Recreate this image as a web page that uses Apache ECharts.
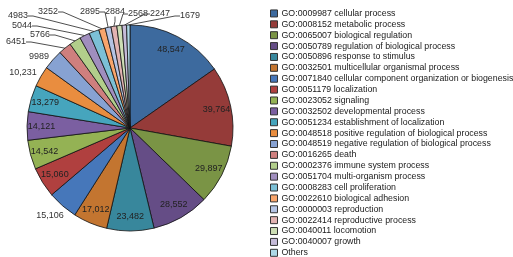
<!DOCTYPE html>
<html><head><meta charset="utf-8">
<script src="https://cdn.jsdelivr.net/npm/echarts@6/dist/echarts.min.js"></script>
<style>html,body{margin:0;padding:0;background:#fff}#c{width:513px;height:257px}</style>
</head><body><div id="c"></div>
<script>
const categories = [
 'GO:0009987 cellular process','GO:0008152 metabolic process','GO:0065007 biological regulation',
 'GO:0050789 regulation of biological process','GO:0050896 response to stimulus',
 'GO:0032501 multicellular organismal process','GO:0071840 cellular component organization or biogenesis',
 'GO:0051179 localization','GO:0023052 signaling','GO:0032502 developmental process',
 'GO:0051234 establishment of localization','GO:0048518 positive regulation of biological process',
 'GO:0048519 negative regulation of biological process','GO:0016265 death','GO:0002376 immune system process',
 'GO:0051704 multi-organism process','GO:0008283 cell proliferation','GO:0022610 biological adhesion',
 'GO:0000003 reproduction','GO:0022414 reproductive process','GO:0040011 locomotion','GO:0040007 growth','Others'
];
const values = [48547,39764,29897,28552,23482,17012,15106,15060,14542,14121,13279,10231,9989,6451,5766,5044,4983,3252,2895,2884,2568,2247,1679];
const valueLabels = ['48,547','39,764','29,897','28,552','23,482','17,012','15,106','15,060','14,542','14,121','13,279','10,231','9989','6451','5766','5044','4983','3252','2895','2884','2568','2247','1679'];
const colors = ['#3D6A9E','#953B39','#7A9445','#654D86','#38879C','#C37530','#4677BA','#B0403F','#94B254','#7B5FA1','#46A5BD','#E98D3F','#87A2D2','#CF7F7E','#B2CE8B','#A08EBE','#7CC0D6','#F8A56C','#B4C3E3','#E2B3B2','#CDDEB4','#C5BBD8','#ADD8E6'];

// layout only: indices of labels drawn inside, outside label anchor points, which show leader lines
const insideIdx = [0,1,2,3,4,5,7,8,9,10];
const outsidePos = {6:[50,216],11:[23,73],12:[39,57],13:[16,42],14:[40,35],15:[22,26],16:[18,16],17:[48,12],18:[90,12],19:[115,12],20:[138,14],21:[160,14],22:[190,16]};
const noLine = [6,11,12];

const FONT = '"Liberation Sans",Arial,sans-serif';
const chart = echarts.init(document.getElementById('c'), null, {renderer:'canvas'});
const mainData = categories.map((n,i)=>({
  name:n, value:values[i], itemStyle:{color:colors[i]},
  label:{show: outsidePos[i]!==undefined},
  labelLine:{show: outsidePos[i]!==undefined && noLine.indexOf(i)<0}
}));
const innerData = categories.map((n,i)=>({
  name:n, value:values[i],
  label:{show: insideIdx.indexOf(i)>=0}
}));
chart.setOption({
  animation:false,
  legend:{
    orient:'vertical', left:270, top:8, height:300, padding:0, itemWidth:7, itemHeight:7, itemGap:0,
    icon:'rect', data:categories, selectedMode:false,
    itemStyle:{borderColor:'#333', borderWidth:1},
    textStyle:{fontFamily:FONT, fontSize:8.8, color:'#1a1a1a', lineHeight:10.88, padding:[0,0,0,-1]}
  },
  series:[{
    type:'pie', center:[130,128], radius:[0,103], startAngle:90, clockwise:true,
    avoidLabelOverlap:false, silent:true,
    itemStyle:{borderColor:'#111', borderWidth:0.8},
    label:{position:'outside', fontFamily:FONT, fontSize:9, color:'#333',
      formatter:p=>valueLabels[p.dataIndex]},
    labelLine:{lineStyle:{color:'#222', width:0.8}, length:5, length2:5},
    labelLayout:function(p){
      const pos = outsidePos[p.dataIndex];
      if(!pos) return {};
      return {x:pos[0], y:pos[1], align:'center', verticalAlign:'middle'};
    },
    data:mainData
  },{
    type:'pie', center:[130,128], radius:[68,103], startAngle:90, clockwise:true,
    avoidLabelOverlap:false, silent:true, legendHoverLink:false,
    itemStyle:{color:'rgba(0,0,0,0)', borderWidth:0},
    label:{position:'inside', fontFamily:FONT, fontSize:9, color:'#222',
      formatter:p=>valueLabels[p.dataIndex]},
    labelLine:{show:false},
    data:innerData
  }]
});
</script></body></html>
